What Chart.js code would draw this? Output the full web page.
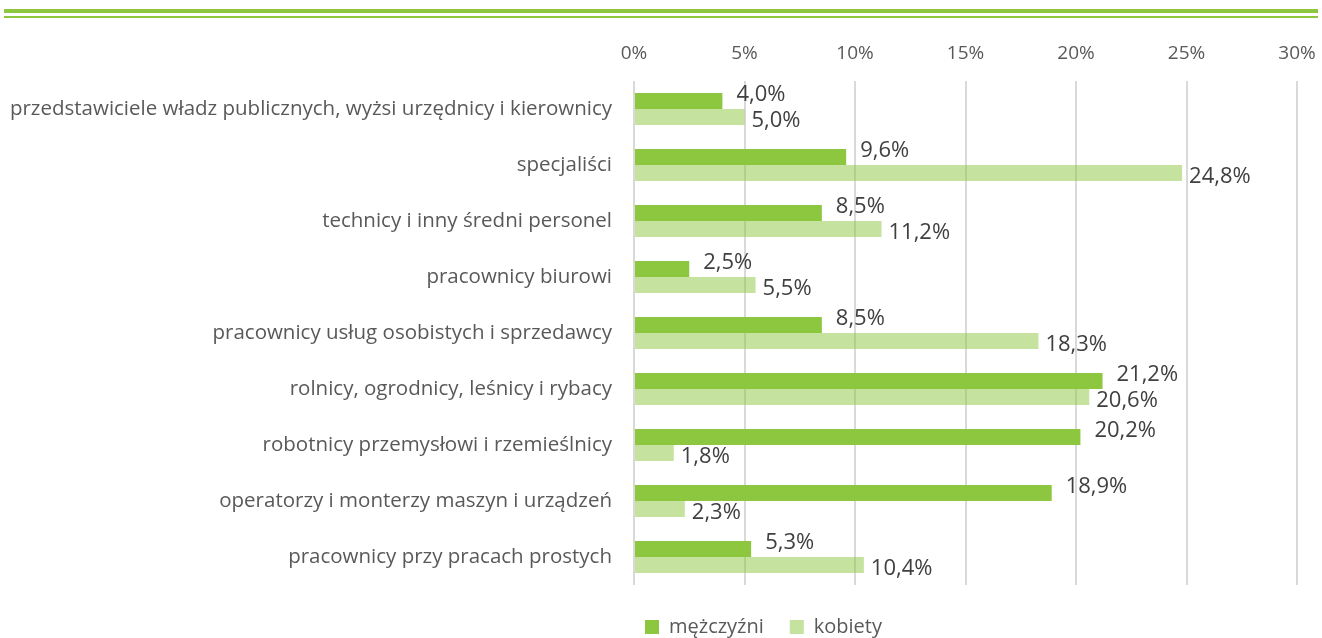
<!DOCTYPE html>
<html>
<head>
<meta charset="utf-8">
<script src="https://cdn.jsdelivr.net/npm/chart.js@4/dist/chart.umd.min.js"></script>
<style>
  html, body { margin: 0; padding: 0; background: #fff; }
  #wrap { position: relative; width: 1322px; height: 638px; }
  .line1 { position: absolute; left: 4px; width: 1314px; top: 9px; height: 4px; background: #8dc63f; }
  .line2 { position: absolute; left: 4px; width: 1314px; top: 16px; height: 1.5px; background: #8dc63f; }
</style>
</head>
<body>
<div id="wrap">
  <canvas id="chart" width="1322" height="638"></canvas>
  <div class="line1"></div>
  <div class="line2"></div>
</div>
<script>
const categories = [
    "przedstawiciele władz publicznych, wyżsi urzędnicy i kierownicy",
    "specjaliści",
    "technicy i inny średni personel",
    "pracownicy biurowi",
    "pracownicy usług osobistych i sprzedawcy",
    "rolnicy, ogrodnicy, leśnicy i rybacy",
    "robotnicy przemysłowi i rzemieślnicy",
    "operatorzy i monterzy maszyn i urządzeń",
    "pracownicy przy pracach prostych"
];
const men = [4.0, 9.6, 8.5, 2.5, 8.5, 21.2, 20.2, 18.9, 5.3];
const women = [5.0, 24.8, 11.2, 5.5, 18.3, 20.6, 1.8, 2.3, 10.4];
const seriesNames = ["mężczyźni", "kobiety"];

const FONT = "'Open Sans', Lato, sans-serif";

/* -------------------------------
   VALUE LABELS
--------------------------------*/
const valueLabels = {
    id: "valueLabels",
    afterLayout(chart) {
        // legend sits right of centre in the original
        const lg = chart.legend;
        lg.left += 115;
        lg.right += 115;
        lg.top += 6;
    },
    afterDatasetsDraw(chart) {
        const ctx = chart.ctx;
        ctx.save();
        ctx.font = "22px " + FONT;
        ctx.fillStyle = "#404040";
        ctx.textAlign = "left";
        ctx.textBaseline = "middle";
        chart.data.datasets.forEach((ds, i) => {
            const meta = chart.getDatasetMeta(i);
            meta.data.forEach((bar, j) => {
                const txt = ds.data[j].toFixed(1).replace(".", ",") + "%";
                const dx = i === 0 ? 14 : 7;
                const dy = i === 0 ? -6 : 4;
                ctx.fillText(txt, bar.x + dx, bar.y + dy);
            });
        });
        ctx.restore();
    }
};

new Chart(document.getElementById("chart"), {
    type: "bar",
    data: {
        labels: categories,
        datasets: [{
            label: seriesNames[0],
            data: men,
            backgroundColor: "#8dc63f",
            barPercentage: 1,
            categoryPercentage: 0.57
        }, {
            label: seriesNames[1],
            data: women,
            backgroundColor: "rgba(141,198,63,0.5)",
            barPercentage: 1,
            categoryPercentage: 0.57
        }]
    },
    options: {
        indexAxis: "y",
        responsive: false,
        animation: false,
        layout: { padding: { top: 30, right: 25, left: 0, bottom: 0 } },
        plugins: {
            legend: {
                position: "bottom",
                maxHeight: 53,
                labels: {
                    boxWidth: 14,
                    boxHeight: 14,
                    padding: 26,
                    color: "#595959",
                    font: { size: 20, family: FONT }
                }
            },
            tooltip: { enabled: false }
        },
        scales: {
            x: {
                position: "top",
                min: 0,
                max: 30,
                ticks: {
                    stepSize: 5,
                    color: "#595959",
                    font: { size: 19, family: FONT },
                    padding: 16,
                    callback: v => v + "%"
                },
                grid: { color: "#d9d9d9", lineWidth: 2, drawTicks: false },
                border: { display: false },
                afterFit: s => {
                    s.height = 51;
                    s.paddingLeft = 0;
                    s.paddingRight = 0;
                }
            },
            y: {
                ticks: {
                    color: "#595959",
                    font: { size: 20.5, family: FONT },
                    padding: 14
                },
                grid: { display: false },
                border: { display: false },
                afterFit: s => { s.width = 634; }
            }
        }
    },
    plugins: [valueLabels]
});
</script>
</body>
</html>
